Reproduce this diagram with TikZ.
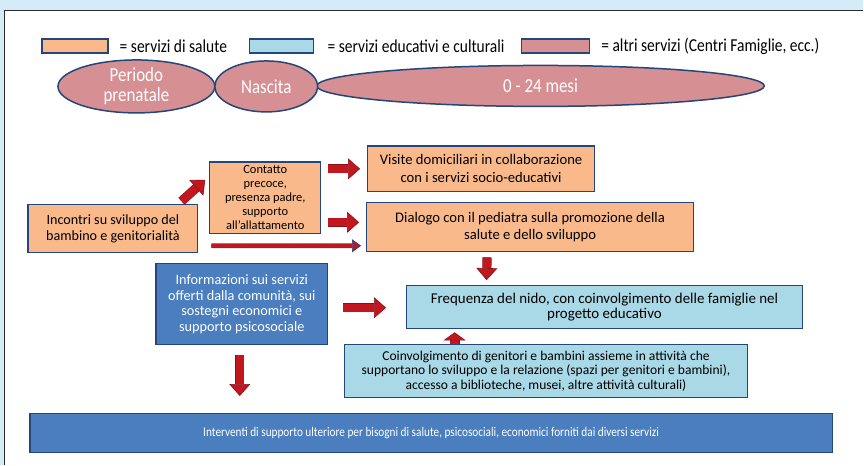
\documentclass[tikz,border=0pt]{standalone}
\usepackage{fontspec}
\setmainfont{Carlito}
\newfontfamily\narrowfont[FakeStretch=0.85]{Carlito}
\usetikzlibrary{shapes.geometric,arrows.meta,calc,positioning}

\definecolor{sfondo}{HTML}{D6EBF8}
\definecolor{cornice}{HTML}{2B2B2B}
\definecolor{bordo}{HTML}{24467A}
\definecolor{salute}{HTML}{F9B98A}
\definecolor{educ}{HTML}{A9D8E7}
\definecolor{altri}{HTML}{D68F92}
\definecolor{infoblu}{HTML}{4A7EBF}
\definecolor{rosso}{HTML}{C2171F}
\definecolor{rossoscuro}{HTML}{8A1016}

\begin{document}
\begin{tikzpicture}[x=1bp,y=-1bp,
  box/.style={draw=bordo, line width=1.3bp, shape=rectangle, inner sep=0pt, align=center,
    font=\fontsize{14.7}{17}\selectfont},
  salute/.style={box, fill=salute},
  educ/.style={box, fill=educ},
  info/.style={box, fill=infoblu, text=white},
  altro/.style={box, fill=altri},
  legenda/.style={inner sep=0pt, font=\narrowfont\fontsize{18.3}{20}\selectfont},
  periodo/.style={draw=bordo, line width=1.5bp, shape=ellipse, fill=altri, inner sep=0pt,
    align=center, text=white, font=\narrowfont\fontsize{20}{20.5}\selectfont},
  freccia/.style={draw=rossoscuro, double=rosso, double distance=8bp, line width=0.6bp,
    -{Triangle[length=12bp, width=21bp, fill=rosso, line width=0.6bp]}},
  frecciacorta/.style={freccia, double distance=9bp,
    -{Triangle[length=8bp, width=22bp, fill=rosso, line width=0.6bp]}},
  freccialunga/.style={draw=bordo, double=rosso, double distance=3.5bp, line width=0.7bp,
    -{Triangle[length=9bp, width=13bp, fill=rosso, line width=0.7bp]}}]

% cornice
\fill[sfondo] (0,0) rectangle (864,465);
\fill[white] (4.5,10.5) rectangle (864,465);
\draw[cornice, line width=1.5bp] (4.5,465) -- (4.5,10.5) -- (864,10.5);

% legenda
\draw (75,46) node[salute, minimum width=66bp, minimum height=14bp] (lsalute) {};
\draw (282,46) node[educ, minimum width=64bp, minimum height=14bp] (leduc) {};
\draw (556,46) node[altro, minimum width=68bp, minimum height=14bp] (laltri) {};
\node[legenda, right=11bp of lsalute] (tsalute) {= servizi di salute};
\node[legenda, right=13bp of leduc] (teduc) {= servizi educativi e culturali};
\node[legenda, right=11bp of laltri] (taltri) {= altri servizi (Centri Famiglie, ecc.)};

% periodi
\draw (136.5,86.5) node[periodo, minimum width=157bp, minimum height=47bp] (prenatale) {Periodo\\prenatale};
\draw (541,86) node[periodo, minimum width=448bp, minimum height=41bp] (mesi) {0 - 24 mesi};
\draw (266.5,86.5) node[periodo, minimum width=103bp, minimum height=51bp] (nascita) {Nascita};

% servizi
\draw (113,229) node[salute, minimum width=170bp, minimum height=48bp,
  font=\fontsize{14.2}{16}\selectfont] (incontri) {Incontri su sviluppo del\\bambino e genitorialità};
\draw (265.5,198) node[salute, minimum width=111bp, minimum height=72bp,
  font=\fontsize{12.5}{14}\selectfont] (contatto) {Contatto\\precoce,\\presenza padre,\\supporto\\all’allattamento};
\draw (481.5,169) node[salute, minimum width=227bp, minimum height=46bp,
  font=\fontsize{14.7}{18}\selectfont] (visite) {Visite domiciliari in collaborazione\\con i servizi socio-educativi};
\draw (530.5,227.5) node[salute, minimum width=327bp, minimum height=49bp,
  font=\fontsize{14.7}{17}\selectfont] (dialogo) {Dialogo con il pediatra sulla promozione della\\salute e dello sviluppo};
\draw (605,307.5) node[educ, minimum width=396bp, minimum height=43bp,
  font=\fontsize{15}{15}\selectfont] (frequenza) {Frequenza del nido, con coinvolgimento delle famiglie nel\\progetto educativo};
\draw (242,304.5) node[info, minimum width=172bp, minimum height=81bp,
  font=\fontsize{14.35}{16}\selectfont] (informazioni) {Informazioni sui servizi\\offerti dalla comunità, sui\\sostegni economici e\\supporto psicosociale};
\draw (546.5,371.5) node[educ, minimum width=403bp, minimum height=53bp,
  font=\fontsize{13.6}{14.5}\selectfont] (coinvolgimento) {Coinvolgimento di genitori e bambini assieme in attività che\\supportano lo sviluppo e la relazione (spazi per genitori e bambini),\\accesso a biblioteche, musei, altre attività culturali)};
\draw (431.5,433.5) node[info, minimum width=803bp, minimum height=39bp,
  font=\narrowfont\fontsize{13.3}{15}\selectfont] (interventi) {Interventi di supporto ulteriore per bisogni di salute, psicosociali, economici forniti dai diversi servizi};

% frecce
\draw[freccia] ($(incontri.north east)+(-17,-3)$) -- ($(contatto.west)+(-4,-18)$);
\draw[freccia] ($(contatto.east|-visite.west)+(7,0)$) -- ($(visite.west)+(-7,0)$);
\draw[freccia] ($(contatto.east|-dialogo.west)+(7,-5)$) -- ($(dialogo.west)+(-7,-5)$);
\draw[freccialunga] ($(incontri.east)+(13,17)$) -- ($(dialogo.west)+(-5,18.5)$);
\draw[freccia] ($(dialogo.south)+(-43,5)$) -- ($(frequenza.north)+(-118,-5)$);
\draw[freccia] ($(informazioni.east)+(15,3.5)$) -- ($(frequenza.west)+(-20,0.5)$);
\draw[frecciacorta] ($(coinvolgimento.north)+(-91.5,0)$) -- ($(frequenza.south)+(-150,3)$);
\draw[freccia] ($(informazioni.south)+(-2,10)$) -- ($(interventi.north)+(-191.5,-17)$);
\end{tikzpicture}
\end{document}
